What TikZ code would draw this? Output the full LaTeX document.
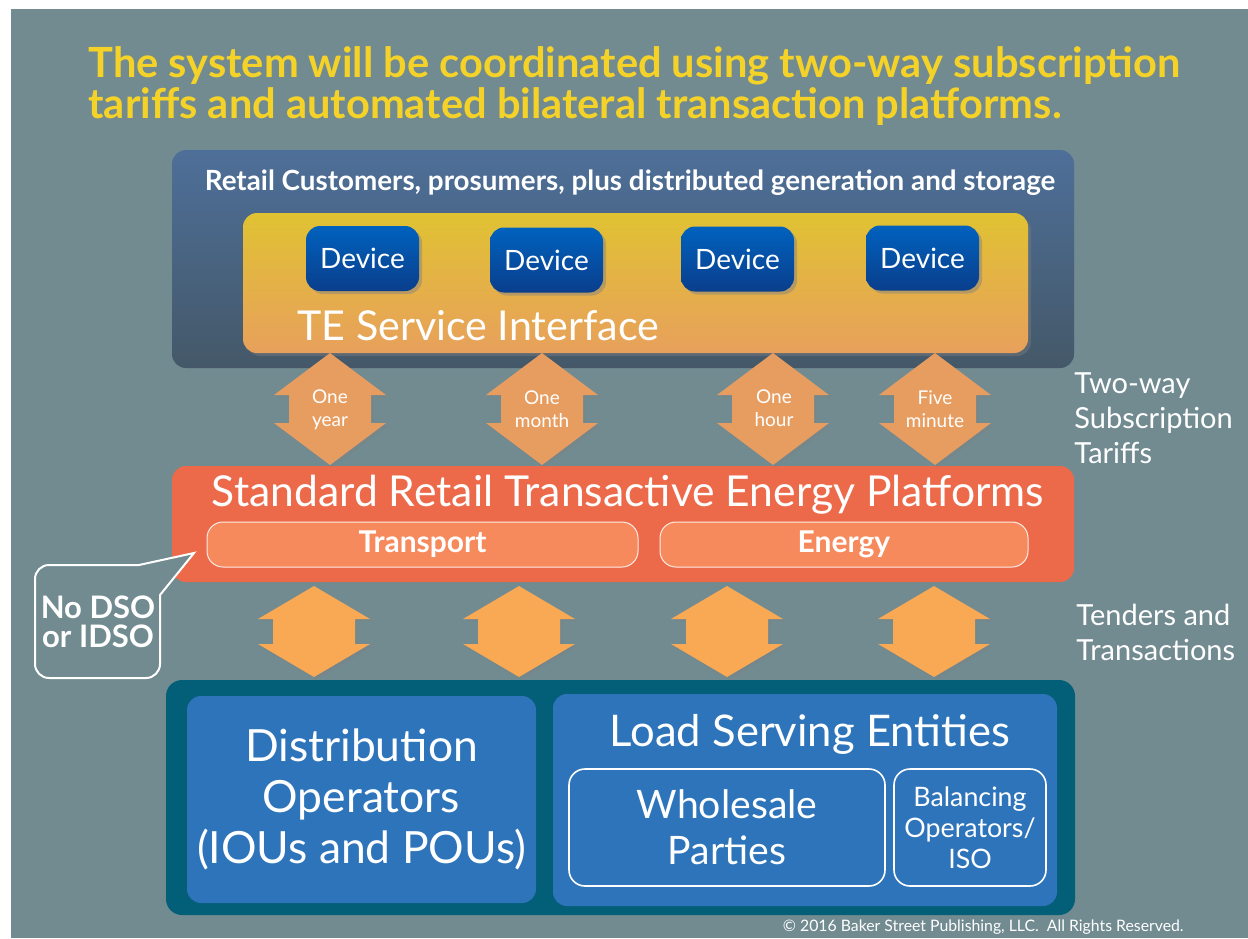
\documentclass[tikz,border=0pt]{standalone}
\usepackage{fontspec}
\setmainfont{Lato}
\usetikzlibrary{shadows,calc}
\definecolor{bg}{RGB}{113,139,145}
\definecolor{ttl}{RGB}{245,210,40}
\definecolor{topA}{RGB}{78,111,153}
\definecolor{topB}{RGB}{68,88,104}
\definecolor{teA}{RGB}{224,194,50}
\definecolor{teB}{RGB}{232,160,92}
\definecolor{devA}{RGB}{0,98,190}
\definecolor{devB}{RGB}{10,62,140}
\definecolor{upar}{RGB}{232,157,96}
\definecolor{plat}{RGB}{236,106,74}
\definecolor{sub}{RGB}{246,138,92}
\definecolor{loar}{RGB}{249,168,84}
\definecolor{cont}{RGB}{3,94,120}
\definecolor{bluebox}{RGB}{46,116,186}
\newcommand{\dblarr}[7]{% cx, ytop, headh, shafth, halfhead, halfshaft, colour
  \path[fill=#7, drop shadow={shadow xshift=1.2pt, shadow yshift=-1.2pt, opacity=0.35}]
    (#1,#2) -- ++(#5,#3) -- ++(#6-#5,0) -- ++(0,#4) -- ++(#5-#6,0)
    -- ++(-#5,#3) -- ++(-#5,-#3) -- ++(#5-#6,0) -- ++(0,-#4) -- ++(#6-#5,0) -- cycle;}
\tikzset{
  wt/.style={text=white, inner sep=0pt},
  devbox/.style={rounded corners=7pt, top color=devA, bottom color=devB,
    minimum width=56.5pt, minimum height=32.5pt, text=white,
    font=\fontsize{14}{16}\selectfont,
    drop shadow={shadow xshift=1.5pt, shadow yshift=-1.5pt, opacity=0.45}},
  subbox/.style={rounded corners=8pt, fill=sub, draw=white!85!sub, line width=0.5pt,
    minimum height=22.5pt, text=white, font=\bfseries\fontsize{15}{17}\selectfont},
  bluebx/.style={rounded corners=7pt, fill=bluebox},
  whitebx/.style={rounded corners=8pt, draw=white, line width=0.8pt, minimum height=58.5pt},
  arlbl/.style={text=white, align=center, font=\fontsize{9.5}{11.5}\selectfont, inner sep=0pt},
  sidelbl/.style={text=white, align=left, anchor=west, inner sep=0pt,
    font=\fontsize{14.5}{17.5}\selectfont},
}
\begin{document}
\begin{tikzpicture}[x=0.5pt,y=-0.5pt]
\useasboundingbox (0,0) rectangle (1248,938);
\fill[white] (0,0) rectangle (1248,938);
\fill[bg] (11,9) rectangle (1248,938);
% title
\node[anchor=west, text=ttl, align=left, inner sep=0pt,
  font=\bfseries\fontsize{20.8}{20.5}\selectfont] (title) at (88,86)
  {The system will be coordinated using two-way subscription\\tariffs and automated bilateral transaction platforms.};
% top box
\node[rounded corners=7pt, top color=topA, bottom color=topB,
  minimum width=451pt, minimum height=109pt] (top) at (623,259) {};
\node[wt, font=\bfseries\fontsize{13.9}{16}\selectfont] (retail) at (630,183)
  {Retail Customers, prosumers, plus distributed generation and storage};
\node[rounded corners=7pt, top color=teA, bottom color=teB,
  minimum width=392.5pt, minimum height=70pt,
  drop shadow={shadow xshift=1.5pt, shadow yshift=-1.5pt, opacity=0.4}] (te) at (635.5,283) {};
\node[devbox] (d1) at (362.5,258.5) {Device};
\node[devbox] (d2) at (546.5,260) {Device};
\node[devbox] (d3) at (737.5,259) {Device};
\node[devbox] (d4) at (922.5,258) {Device};
\node[wt, anchor=west, font=\fontsize{20.6}{23}\selectfont] (tes) at (297,326) {TE Service Interface};
% platform
\node[rounded corners=7pt, fill=plat, minimum width=451pt, minimum height=58pt] (plat) at (623,524) {};
\node[wt, font=\fontsize{21.3}{24}\selectfont] (plattl) at (628,495) {Standard Retail Transactive Energy Platforms};
\node[subbox, minimum width=215.5pt] (transport) at (422.5,544.5) {Transport};
\node[subbox, minimum width=184pt] (energy) at (844,544.5) {Energy};
% upper arrows
\dblarr{330}{353}{42}{28}{56}{41}{upar}
\dblarr{542}{353}{42}{28}{56}{41}{upar}
\dblarr{773}{353}{42}{28}{56}{41}{upar}
\dblarr{935}{353}{42}{28}{56}{41}{upar}
\node[arlbl] (a1) at (330,409.5) {One\\year};
\node[arlbl] (a2) at (542,409) {One\\month};
\node[arlbl] (a3) at (774,408) {One\\hour};
\node[arlbl] (a4) at (935,409.5) {Five\\minute};
% lower arrows
\dblarr{314}{586}{33}{25}{56}{41}{loar}
\dblarr{519}{586}{33}{25}{56}{41}{loar}
\dblarr{727}{586}{33}{25}{56}{41}{loar}
\dblarr{934}{586}{33}{25}{56}{41}{loar}
% side labels
\node[sidelbl] (tariffs) at (1074,418) {Two-way\\Subscription\\Tariffs};
\node[sidelbl] (tenders) at (1076,632.5) {Tenders and\\Transactions};
% callout
\coordinate (tip) at (194,553);
\draw[white, line width=1pt, fill=bg] (139,565) [rounded corners=7pt] -- (35,565) -- (35,678) -- (160,678) [sharp corners] -- (160,595) -- (tip) -- cycle;
\node[wt, align=center, font=\bfseries\fontsize{15.5}{14.5}\selectfont] (nodso) at (98,622) {No DSO\\or IDSO};
% bottom
\node[rounded corners=8pt, fill=cont, minimum width=454.5pt, minimum height=117.5pt] (cont) at (620.5,797.5) {};
\node[bluebx, minimum width=174.5pt, minimum height=103.5pt] (dist) at (361.5,799.5) {};
\node[wt, align=center, font=\fontsize{22.2}{25.5}\selectfont] at (dist) {Distribution\\Operators\\(IOUs and POUs)};
\node[bluebx, minimum width=252pt, minimum height=106pt] (lse) at (805,800) {};
\node[wt, font=\fontsize{21.8}{24}\selectfont] (lsetl) at (810,734) {Load Serving Entities};
\node[whitebx, minimum width=158pt] (whole) at (727,827.5) {};
\node[wt, align=center, font=\fontsize{19.6}{23}\selectfont] at (whole) {Wholesale\\Parties};
\node[whitebx, minimum width=76pt] (bal) at (970,827.5) {};
\node[wt, align=center, font=\fontsize{13.4}{15.5}\selectfont] at (bal) {Balancing\\Operators/\\ISO};
% copyright
\node[wt, anchor=east, font=\fontsize{7.9}{9}\selectfont] (copy) at (1184,927)
  {© 2016 Baker Street Publishing, LLC.\ \ All Rights Reserved.};
\end{tikzpicture}
\end{document}
